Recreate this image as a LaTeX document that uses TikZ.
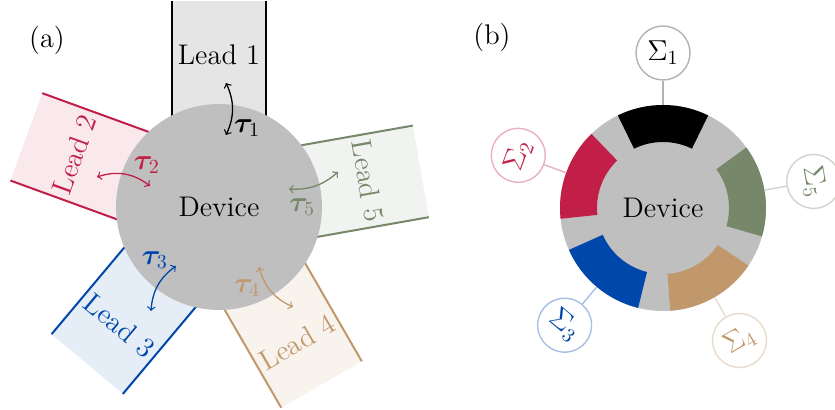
\documentclass[tikz,border=0pt]{standalone}
\usepackage{bm}
\definecolor{leadred}{RGB}{193,31,71}
\definecolor{leadblue}{RGB}{0,71,171}
\definecolor{leadtan}{RGB}{193,152,107}
\definecolor{leadgreen}{RGB}{118,135,106}
\begin{document}
\begin{tikzpicture}[
  x=0.5pt, y=0.5pt,
  every node/.style={font=\fontsize{14.2}{17}\selectfont},
  device/.style={circle, fill=gray!50, minimum size=103pt, inner sep=0pt},
  leadedge/.style={line width=1pt},
  tauarrow/.style={<->, line width=0.65pt},
  sigma/.style={circle, draw, line width=0.7pt, minimum size=27pt, inner sep=0pt, fill=white},
  sigline/.style={line width=0.7pt}
]
\useasboundingbox (-219,-203) rectangle (616,207);

% (a) leads
\begin{scope}[rotate=90]
  \fill[black!10] (0,-46.5) rectangle (206,46.5);
  \draw[leadedge, black] (0,46.5) -- (206,46.5) (0,-46.5) -- (206,-46.5);
\end{scope}
\begin{scope}[rotate=160]
  \fill[leadred!10] (0,-46.5) rectangle (205,46.5);
  \draw[leadedge, leadred] (0,46.5) -- (205,46.5) (0,-46.5) -- (205,-46.5);
\end{scope}
\begin{scope}[rotate=230]
  \fill[leadblue!10] (0,-46.5) rectangle (205,46.5);
  \draw[leadedge, leadblue] (0,46.5) -- (205,46.5) (0,-46.5) -- (205,-46.5);
\end{scope}
\begin{scope}[rotate=300]
  \fill[leadtan!12] (0,-46.5) rectangle (205,46.5);
  \draw[leadedge, leadtan] (0,46.5) -- (205,46.5) (0,-46.5) -- (205,-46.5);
\end{scope}
\begin{scope}[rotate=10]
  \fill[leadgreen!10] (0,-46.5) rectangle (205,46.5);
  \draw[leadedge, leadgreen] (0,46.5) -- (205,46.5) (0,-46.5) -- (205,-46.5);
\end{scope}

\node[device] (dev) at (0,0) {Device};

\node (l1) at (90:152) {Lead 1};
\node[rotate=70, text=leadred] (l2) at (160:154) {Lead 2};
\node[rotate=-40, text=leadblue] (l3) at (230:155) {Lead 3};
\node[rotate=30, text=leadtan] (l4) at (300:156) {Lead 4};
\node[rotate=-80, text=leadgreen] (l5) at (10:151) {Lead 5};

% exchange arrows
\coordinate (t1a) at (7,124);
\coordinate (t1b) at (7,72);
\coordinate (t2a) at (-122,30);
\coordinate (t2b) at (-69,21);
\coordinate (t3a) at (-43,-59);
\coordinate (t3b) at (-68,-104);
\coordinate (t4a) at (40,-60);
\coordinate (t4b) at (74,-100);
\coordinate (t5a) at (70,18);
\coordinate (t5b) at (119,35);
\draw[tauarrow] (t1a) to[bend left=25] (t1b);
\draw[tauarrow, leadred] (t2a) to[bend left=28] (t2b);
\draw[tauarrow, leadblue] (t3a) to[bend right=25] (t3b);
\draw[tauarrow, leadtan] (t4a) to[bend right=25] (t4b);
\draw[tauarrow, leadgreen] (t5a) to[bend right=22] (t5b);
\node (tau1) at (28,79) {$\bm{\tau}_1$};
\node[text=leadred] (tau2) at (-72,42) {$\bm{\tau}_2$};
\node[text=leadblue] (tau3) at (-64,-53) {$\bm{\tau}_3$};
\node[text=leadtan] (tau4) at (28,-81) {$\bm{\tau}_4$};
\node[text=leadgreen] (tau5) at (83,0) {$\bm{\tau}_5$};

\node (pa) at (-172,167) {(a)};

% (b) self-energies
\begin{scope}[shift={(444,-1)}]
  \node[device] (ring) at (0,0) {Device};
  \fill[black] (64:103) arc[start angle=64, end angle=116, radius=103] -- (116:66) arc[start angle=116, end angle=64, radius=66] -- cycle;
  \fill[leadred] (134:103) arc[start angle=134, end angle=186, radius=103] -- (186:66) arc[start angle=186, end angle=134, radius=66] -- cycle;
  \fill[leadblue] (204:103) arc[start angle=204, end angle=256, radius=103] -- (256:66) arc[start angle=256, end angle=204, radius=66] -- cycle;
  \fill[leadtan] (274:103) arc[start angle=274, end angle=326, radius=103] -- (326:66) arc[start angle=326, end angle=274, radius=66] -- cycle;
  \fill[leadgreen] (344:103) arc[start angle=344, end angle=396, radius=103] -- (36:66) arc[start angle=396, end angle=344, radius=66] -- cycle;

  \coordinate (r1) at (90:103);
  \coordinate (r2) at (160:103);
  \coordinate (r3) at (230:103);
  \coordinate (r4) at (300:103);
  \coordinate (r5) at (10:103);
  \node[sigma, draw=black!30] (s1) at (90:155) {$\Sigma_1$};
  \node[sigma, draw=leadred!35, text=leadred, rotate=70] (s2) at (160:154) {$\Sigma_2$};
  \node[sigma, draw=leadblue!35, text=leadblue, rotate=-40] (s3) at (230:153) {$\Sigma_3$};
  \node[sigma, draw=leadtan!35, text=leadtan, rotate=30] (s4) at (300:153) {$\Sigma_4$};
  \node[sigma, draw=leadgreen!35, text=leadgreen, rotate=-80] (s5) at (10:153) {$\Sigma_5$};
  \draw[sigline, black!30] (s1) -- (r1);
  \draw[sigline, leadred!35] (s2) -- (r2);
  \draw[sigline, leadblue!35] (s3) -- (r3);
  \draw[sigline, leadtan!35] (s4) -- (r4);
  \draw[sigline, leadgreen!35] (s5) -- (r5);
\end{scope}

\node (pb) at (273,170) {(b)};

\end{tikzpicture}
\end{document}
